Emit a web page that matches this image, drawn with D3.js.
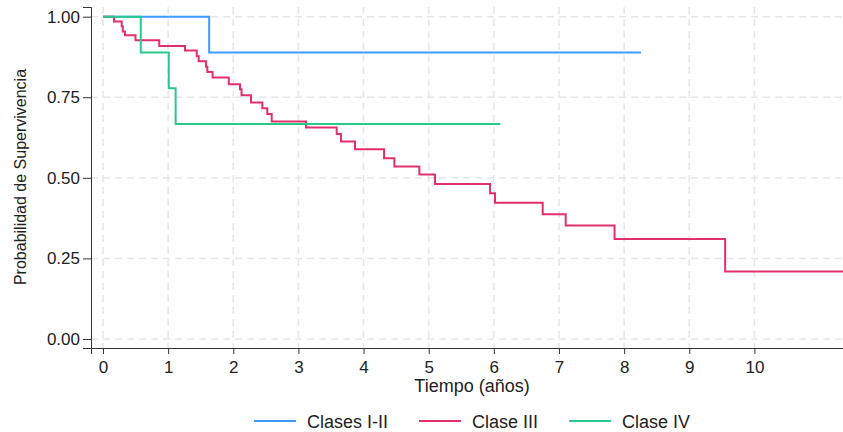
<!DOCTYPE html>
<meta charset="utf-8" />
<style>
  body { margin: 0; background: #fff; }
  svg { display: block; font-family: "Liberation Sans", Arial, sans-serif; }
  .tick text { font-size: 17px; fill: #222; }
  .title { font-size: 18px; fill: #222; }
  .legend text { font-size: 18px; fill: #222; }
</style>
<body>
<script src="https://d3js.org/d3.v7.min.js"></script>
<script>
  // survival curves (time in years, survival prob)
  var blueTimes = [0, 1.63, 8.26];
  var blueSurv = [1, 0.889, 0.889];

  var redTimes = [0, 0.169, 0.287, 0.303, 0.338, 0.499, 0.864, 1.259, 1.439, 1.469,
    1.582, 1.602, 1.682, 1.931, 2.103, 2.127, 2.272, 2.446, 2.522, 2.59, 3.117,
    3.588, 3.654, 3.869, 4.315, 4.473, 4.857, 5.097, 5.942, 6.018, 6.75, 7.103,
    7.853, 9.551, 11.5];
  var redSurv = [1, 0.985, 0.97, 0.954, 0.942, 0.927, 0.909, 0.895, 0.877, 0.862,
    0.845, 0.828, 0.811, 0.79, 0.775, 0.756, 0.734, 0.716, 0.698, 0.675, 0.656,
    0.636, 0.613, 0.589, 0.561, 0.535, 0.51, 0.481, 0.452, 0.423, 0.387, 0.352,
    0.31, 0.209, 0.209];

  var greenTimes = [0, 0.58, 1.01, 1.115, 6.1];
  var greenSurv = [1, 0.889, 0.778, 0.667, 0.667];

  var groups = ["Clases I-II", "Clase III", "Clase IV"];
  var colors = ["#3d9cff", "#e3306a", "#27c98c"];

  var xTicks = [0, 1, 2, 3, 4, 5, 6, 7, 8, 9, 10];
  var yTicks = [0, 0.25, 0.5, 0.75, 1];

  var width = 843, height = 432;

  var svg = d3.select("body").append("svg")
    .attr("width", width)
    .attr("height", height);

  var x = d3.scaleLinear().domain([-0.184, 11.36]).range([91, 843]);
  var y = d3.scaleLinear().domain([-0.028, 1.03]).range([348, 7]);

  //dashed grid
  svg.append("g").selectAll("line").data(xTicks).enter().append("line")
    .attr("x1", d => x(d)).attr("x2", d => x(d))
    .attr("y1", y.range()[1]).attr("y2", y.range()[0])
    .attr("stroke", "#e6e6e6").attr("stroke-width", 1.5)
    .attr("stroke-dasharray", "7,5");
  svg.append("g").selectAll("line").data(yTicks).enter().append("line")
    .attr("x1", x.range()[0]).attr("x2", x.range()[1])
    .attr("y1", d => y(d)).attr("y2", d => y(d))
    .attr("stroke", "#e6e6e6").attr("stroke-width", 1.5)
    .attr("stroke-dasharray", "7,5");

  //axes
  var xAxis = svg.append("g")
    .attr("transform", "translate(0," + y.range()[0] + ")")
    .call(d3.axisBottom(x).tickValues(xTicks).tickSizeOuter(0).tickSize(6).tickPadding(7)
      .tickFormat(d3.format("d")));
  var yAxis = svg.append("g")
    .attr("transform", "translate(" + x.range()[0] + ",0)")
    .call(d3.axisLeft(y).tickValues(yTicks).tickSizeOuter(0).tickSize(8).tickPadding(3)
      .tickFormat(d3.format(".2f")));
  [xAxis, yAxis].forEach(function(a) {
    a.selectAll("path, line").attr("stroke", "#333");
    a.selectAll("text").attr("font-family", null).attr("font-size", null);
  });

  //titles
  svg.append("text").attr("class", "title")
    .attr("x", 472).attr("y", 392)
    .attr("text-anchor", "middle")
    .text("Tiempo (años)");
  svg.append("text").attr("class", "title")
    .attr("transform", "translate(26,177) rotate(-90)")
    .attr("text-anchor", "middle")
    .style("font-size", "16px")
    .text("Probabilidad de Supervivencia");

  //curves
  var series = [
    { t: blueTimes, s: blueSurv },
    { t: redTimes, s: redSurv },
    { t: greenTimes, s: greenSurv }
  ];
  svg.append("clipPath").attr("id", "clip").append("rect")
    .attr("x", x.range()[0]).attr("y", 0)
    .attr("width", x.range()[1] - x.range()[0]).attr("height", y.range()[0]);

  var line = d3.line()
    .x(d => x(d[0]))
    .y(d => y(d[1]))
    .curve(d3.curveStepAfter);

  svg.append("g").attr("clip-path", "url(#clip)")
    .selectAll("path").data(series).enter().append("path")
    .attr("d", d => line(d.t.map((t, i) => [t, d.s[i]])))
    .attr("fill", "none")
    .attr("stroke", (d, i) => colors[i])
    .attr("stroke-width", 2);

  //legend
  var legend = svg.append("g").attr("class", "legend");
  var lx = 254;
  groups.forEach(function(g, i) {
    var item = legend.append("g").attr("transform", "translate(" + lx + ",421)");
    item.append("line").attr("x1", 0).attr("x2", 42)
      .attr("stroke", colors[i]).attr("stroke-width", 2);
    var t = item.append("text").attr("x", 53).attr("y", 6.5).text(g);
    lx += 53 + t.node().getComputedTextLength() + 31;
  });
</script>
</body>
